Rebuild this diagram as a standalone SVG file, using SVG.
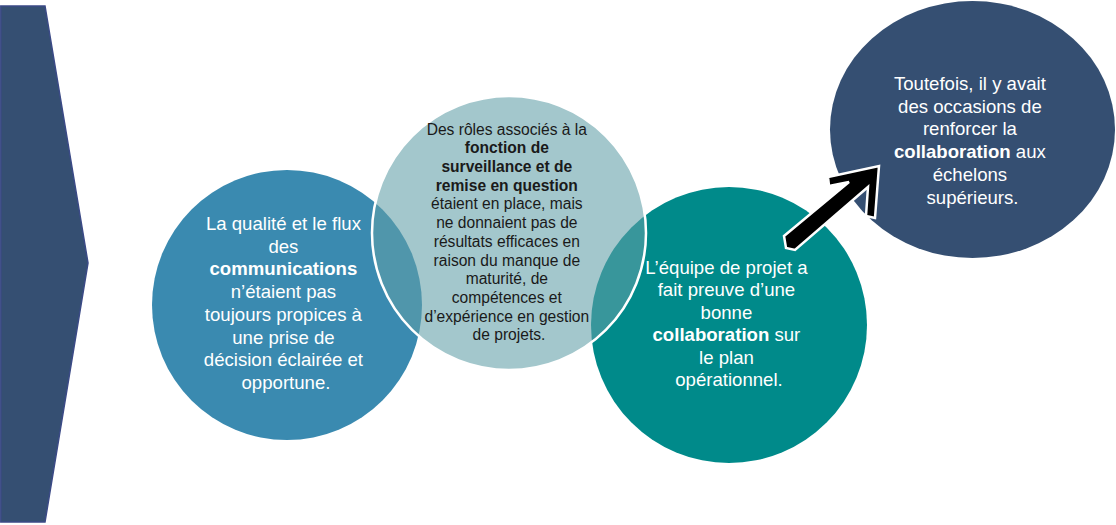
<svg xmlns="http://www.w3.org/2000/svg" width="1116" height="525" viewBox="0 0 1116 525">
<style>
text{font-family:"Liberation Sans",Arial,sans-serif;text-anchor:middle}
.w{fill:#ffffff;font-size:18.6px}
.d{fill:#1a1a1a;font-size:15.6px}
.b{font-weight:bold}
</style>
<rect width="1116" height="525" fill="#ffffff"/>
<g id="chevron">
<polygon points="0.8,6 45,6 88,263 45,522 0.8,522" fill="#354f72" stroke="#3b4a86" stroke-width="1.5"/>
</g>
<g id="node-communications">
<circle cx="287" cy="305" r="135" fill="#3a8ab0"/>
<text class="w">
<tspan x="286" y="230">La qualité et le flux</tspan>
<tspan x="286" y="252.7">des</tspan>
<tspan x="286" y="275.4" class="b">communications</tspan>
<tspan x="286" y="298.1">n’étaient pas</tspan>
<tspan x="286" y="320.8">toujours propices à</tspan>
<tspan x="286" y="343.5">une prise de</tspan>
<tspan x="286" y="366.2">décision éclairée et</tspan>
<tspan x="286" y="388.9">opportune.</tspan>
</text>
</g>
<g id="node-equipe">
<circle cx="729" cy="325" r="138" fill="#008a8a"/>
<text class="w">
<tspan x="729" y="274">L’équipe de projet a</tspan>
<tspan x="729" y="296.4">fait preuve d’une</tspan>
<tspan x="729" y="318.8">bonne</tspan>
<tspan x="729" y="341.2"><tspan class="b">collaboration</tspan> sur</tspan>
<tspan x="729" y="363.6">le plan</tspan>
<tspan x="729" y="386">opérationnel.</tspan>
</text>
</g>
<g id="node-toutefois">
<ellipse cx="972.5" cy="129.5" rx="142.5" ry="128.5" fill="#354f72"/>
<text class="w">
<tspan x="972.5" y="90">Toutefois, il y avait</tspan>
<tspan x="972.5" y="112.7">des occasions de</tspan>
<tspan x="972.5" y="135.4">renforcer la</tspan>
<tspan x="972.5" y="158.1"><tspan class="b">collaboration</tspan> aux</tspan>
<tspan x="972.5" y="180.8">échelons</tspan>
<tspan x="972.5" y="203.5">supérieurs.</tspan>
</text>
</g>
<g id="node-roles">
<circle cx="509" cy="233" r="137" fill="#609ea7" fill-opacity="0.58" stroke="#ffffff" stroke-width="2.5"/>
<text class="d">
<tspan x="509" y="134.6">Des rôles associés à la</tspan>
<tspan x="509" y="153.3" class="b">fonction de</tspan>
<tspan x="509" y="172" class="b">surveillance et de</tspan>
<tspan x="509" y="190.7" class="b">remise en question</tspan>
<tspan x="509" y="209.4">étaient en place, mais</tspan>
<tspan x="509" y="228.1">ne donnaient pas de</tspan>
<tspan x="509" y="246.8">résultats efficaces en</tspan>
<tspan x="509" y="265.5">raison du manque de</tspan>
<tspan x="509" y="284.2">maturité, de</tspan>
<tspan x="509" y="302.9">compétences et</tspan>
<tspan x="509" y="321.6">d’expérience en gestion</tspan>
<tspan x="509" y="340.3">de projets.</tspan>
</text>
</g>
<g id="connectors">
<polygon points="784,236 849,182 829,186 828,177 879,166 875,218 866,216 868,187 795,250 786,248" fill="#000000" stroke="#ffffff" stroke-width="2.5" stroke-linejoin="miter"/>
</g>
</svg>
